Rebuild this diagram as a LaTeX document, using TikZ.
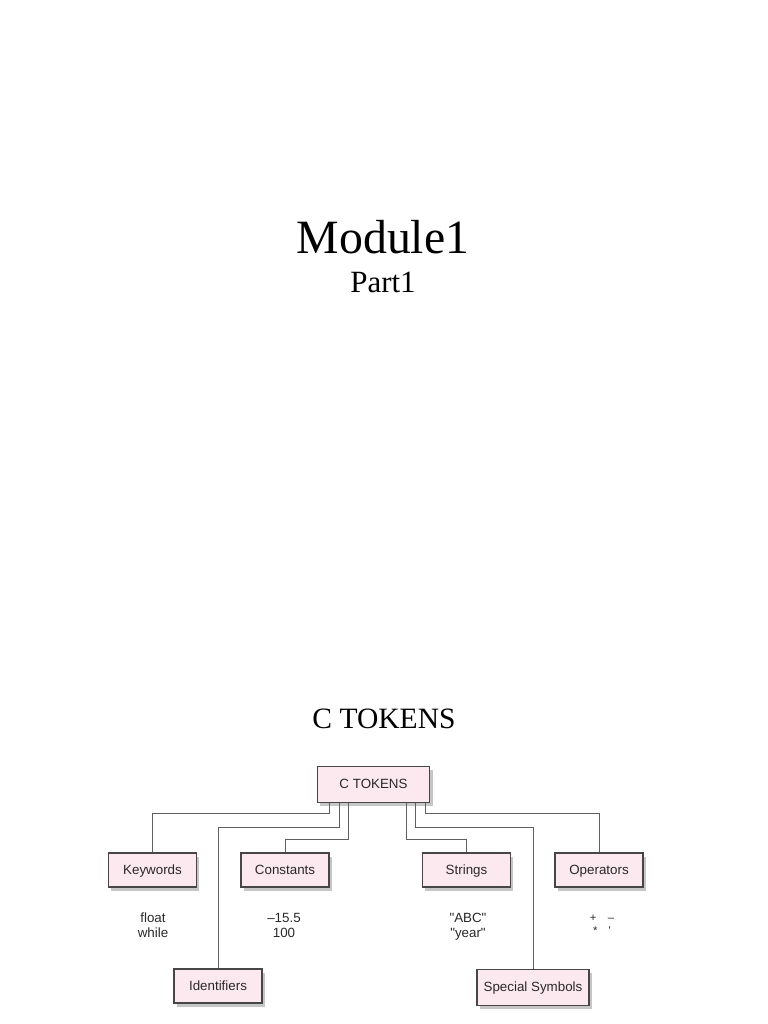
\documentclass[tikz,border=0pt]{standalone}
\usepackage{fontspec}
\setmainfont{Liberation Serif}
\setsansfont{Liberation Sans}
\usepackage{tikz}
\usetikzlibrary{calc,shadows}
\definecolor{boxpink}{RGB}{252,233,240}
\definecolor{boxedge}{RGB}{70,70,70}
\definecolor{linegray}{RGB}{95,95,95}
\definecolor{boxtext}{RGB}{40,40,40}

\begin{document}
\begin{tikzpicture}[x=0.025cm, y=-0.025cm,
  tokbox/.style={draw=boxedge, line width=0.8pt, fill=boxpink, text=boxtext,
    minimum width=2.2cm, minimum height=0.85cm, text height=1.6ex, text depth=0.35ex,
    font=\sffamily\fontsize{9.5}{11}\selectfont,
    drop shadow={shadow xshift=2pt, shadow yshift=-2.5pt, opacity=0.45}},
  link/.style={draw=linegray, line width=0.7pt},
  example/.style={align=center, text=boxtext, font=\sffamily\fontsize{9.5}{10.7}\selectfont}]
  \useasboundingbox (0,0) rectangle (768,1024);
  % Titles
  \node[anchor=base, font=\fontsize{34}{40}\selectfont] (module) at (383,253) {Module1};
  \node[anchor=base, font=\fontsize{22}{26}\selectfont] (part) at (383,292) {Part1};
  \node[anchor=base, font=\fontsize{21}{25}\selectfont] (title) at (384,728) {C TOKENS};
  % Boxes
  \node[tokbox, minimum width=2.82cm, minimum height=0.88cm] (tok) at (373.5,784.5) {C TOKENS};
  \node[tokbox] (kw)  at (152.5,870) {Keywords};
  \node[tokbox] (con) at (285,870)   {Constants};
  \node[tokbox] (str) at (466.5,870) {Strings};
  \node[tokbox] (op)  at (599,870)   {Operators};
  \node[tokbox] (idn) at (218,986)   {Identifiers};
  \node[tokbox, minimum width=2.8cm, minimum height=0.88cm] (sym) at (533,987.5) {Special Symbols};
  % Links
  \draw[link] ($(tok.south)+(-44.5,0)$) -- ++(0,11) -| (kw.north);
  \draw[link] ($(tok.south)+(-34.5,0)$) -- ++(0,25) -| (idn.north);
  \draw[link] ($(tok.south)+(-25.5,0)$) -- ++(0,37) -| (con.north);
  \draw[link] ($(tok.south)+(32.5,0)$)  -- ++(0,37) -| (str.north);
  \draw[link] ($(tok.south)+(41.5,0)$)  -- ++(0,25) -| (sym.north);
  \draw[link] ($(tok.south)+(51.5,0)$)  -- ++(0,11) -| (op.north);
  % Examples
  \node[example] (kwex)  at (153,927) {\strut float\\\strut while};
  \node[example] (conex) at (284,927) {\strut --15.5\\\strut 100};
  \node[example] (strex) at (468,927) {\strut\textquotedbl ABC\textquotedbl\\\strut\textquotedbl year\textquotedbl};
  \node[example, font=\sffamily\fontsize{8}{9.5}\selectfont] (opex) at (602,925) {\strut +\quad--\\\strut *\quad\textquotesingle};
\end{tikzpicture}
\end{document}
